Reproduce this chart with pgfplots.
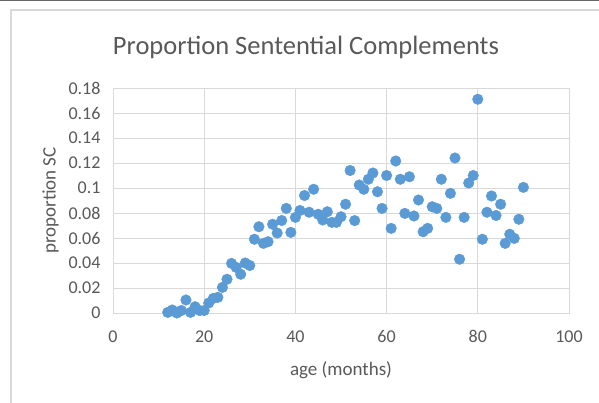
\documentclass[border=0pt]{standalone}
\usepackage{pgfplots}
\pgfplotsset{compat=1.18}
\usepackage{fontspec}
\setmainfont{Carlito}
\definecolor{excelblue}{HTML}{5B9BD5}
\definecolor{gridgray}{HTML}{D9D9D9}
\definecolor{textgray}{HTML}{595959}
\begin{document}
\begin{tikzpicture}[x=1pt,y=1pt]
\useasboundingbox (0,0) rectangle (599,402);
\begin{scope}
\clip (0,0) rectangle (599,402);
\fill[white] (0,0) rectangle (599,402);
\draw[gridgray, line width=1.2pt] (11,-10) -- (11,392) -- (620,392);
\draw[gray!80!black, line width=1.5pt] (0,401.5) -- (599,401.5);
\end{scope}
\node[text=textgray, font=\fontsize{26.5}{30}\selectfont] at (306,355) {Proportion Sentential Complements};
\begin{axis}[
  at={(113pt,89pt)}, anchor=south west,
  scale only axis, width=456pt, height=225pt,
  xmin=0, xmax=100, ymin=0, ymax=0.18,
  xtick={0,20,40,60,80,100},
  xticklabels={0,20,40,60,80,100},
  ytick={0,0.02,0.04,0.06,0.08,0.1,0.12,0.14,0.16,0.18},
  yticklabels={0,0.02,0.04,0.06,0.08,0.1,0.12,0.14,0.16,0.18},
  scaled y ticks=false,
  major tick length=0pt,
  grid=major,
  major grid style={gridgray, line width=0.8pt},
  axis line style={gridgray, line width=0.8pt},
  tick label style={text=textgray, font=\fontsize{18}{20}\selectfont},
  xticklabel style={yshift=-14pt},
  yticklabel style={xshift=-9pt},
  xlabel={age (months)}, ylabel={proportion SC},
  label style={text=textgray, font=\fontsize{19}{22}\selectfont},
  xlabel style={yshift=-12pt},
  ylabel style={yshift=3pt},
  clip=false,
]
\addplot[only marks, mark=*, mark size=5.3pt, mark options={fill=excelblue, draw=excelblue}] coordinates {
(12,0.0005) (13,0.0024) (14,0.0) (15,0.002) (16,0.0104) (17,0.0005) (18,0.005) (19,0.002) (20,0.002)
(21,0.008) (22,0.0117) (23,0.0125) (24,0.0205) (25,0.027) (26,0.0397) (27,0.0365) (28,0.031) (29,0.040) (30,0.038)
(31,0.059) (32,0.069) (33,0.0557) (34,0.057) (35,0.071) (36,0.064) (37,0.074) (38,0.0837) (39,0.0645) (40,0.0765)
(41,0.082) (42,0.094) (43,0.0806) (44,0.099) (45,0.079) (46,0.0744) (47,0.081) (48,0.0725) (49,0.0725) (50,0.077)
(51,0.087) (52,0.114) (53,0.0739) (54,0.1024) (55,0.099) (56,0.107) (57,0.112) (58,0.097) (59,0.0837) (60,0.110)
(61,0.0677) (62,0.1216) (63,0.107) (64,0.0797) (65,0.109) (66,0.0776) (67,0.0904) (68,0.065) (69,0.0677) (70,0.085)
(71,0.0837) (72,0.107) (73,0.0765) (74,0.0957) (75,0.124) (76,0.043) (77,0.0765) (78,0.104) (79,0.110) (80,0.171)
(81,0.059) (82,0.0806) (83,0.0936) (84,0.078) (85,0.087) (86,0.0557) (87,0.063) (88,0.0597) (89,0.075) (90,0.1005)
};
\end{axis}
\end{tikzpicture}
\end{document}
